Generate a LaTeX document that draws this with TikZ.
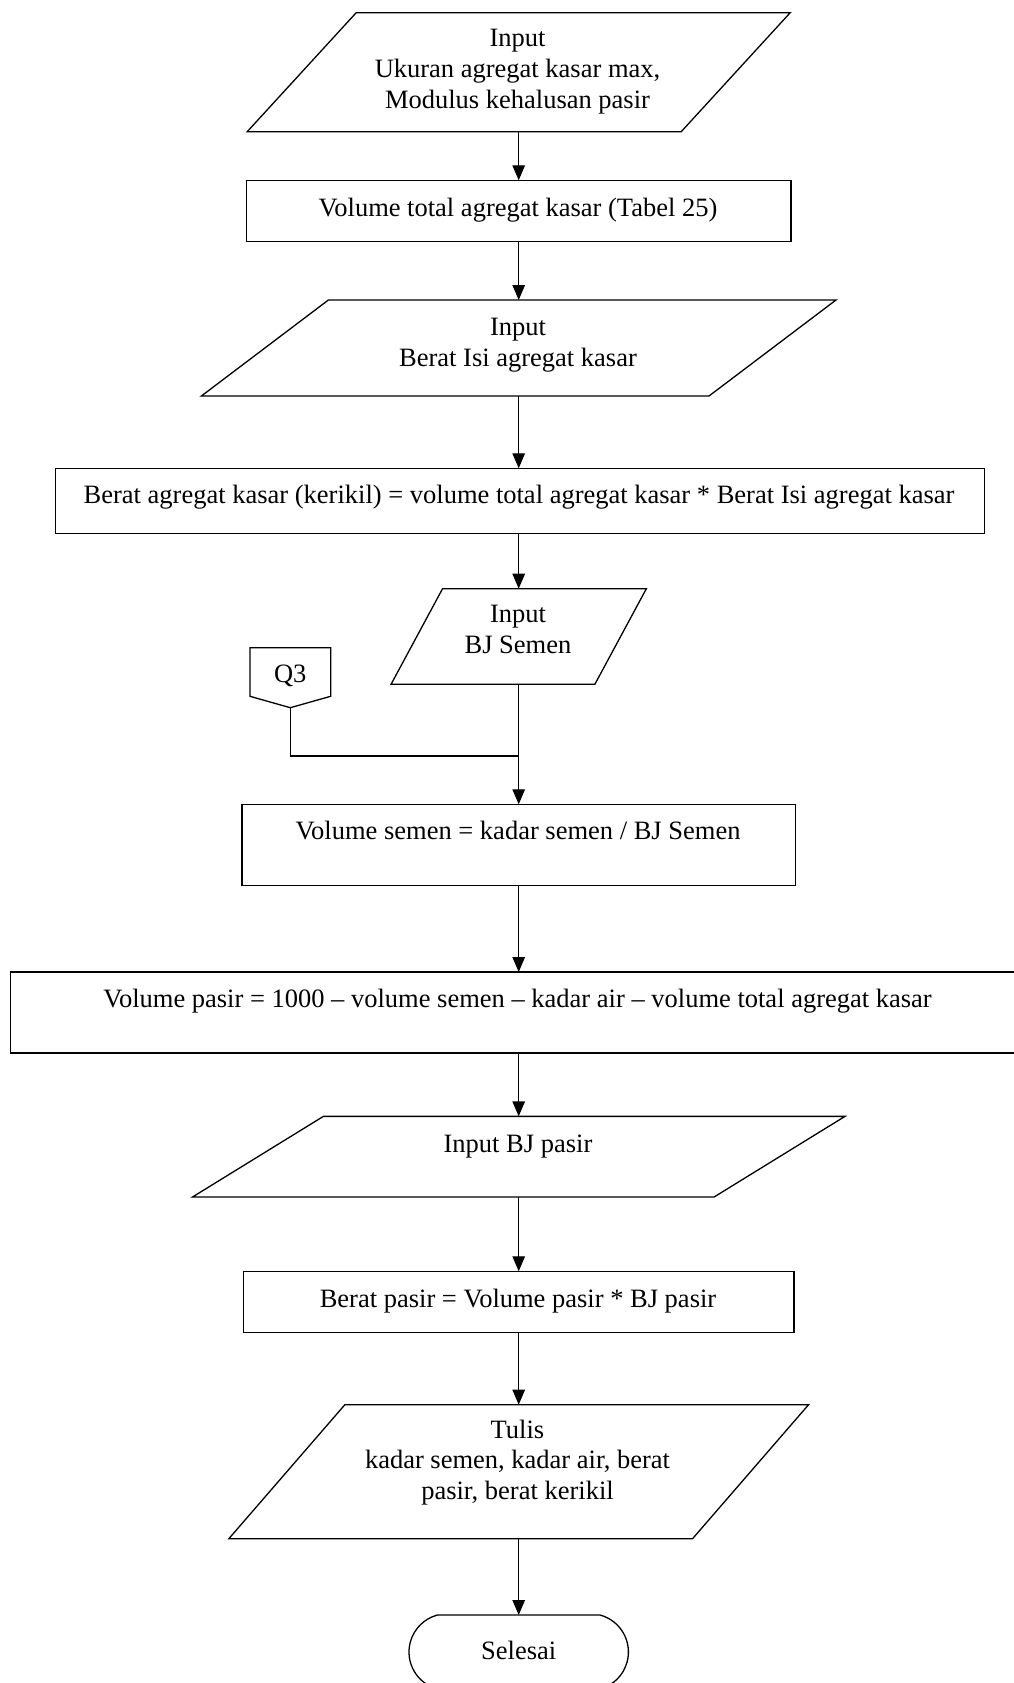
\documentclass[tikz,border=0pt]{standalone}
\usepackage{fontspec}
\setmainfont{Liberation Serif}
\usetikzlibrary{arrows.meta,calc,shapes.misc}

\tikzset{
  frame/.style={inner sep=0pt, outer sep=0pt},
  procbox/.style={frame, draw, rectangle},
  iobox/.style={frame, rectangle},
  endbox/.style={frame, draw, rounded rectangle, rounded rectangle arc length=150},
  txt/.style={font=\fontsize{26.5}{30.8}\selectfont, align=center, inner sep=0pt},
  flow/.style={-{Triangle[length=15pt,width=12.5pt]}},
}

% slanted outline of an input/output node: #1 node name, #2 horizontal slant
\newcommand{\ioframe}[2]{%
  \draw ($(#1.north west)+(#2,0)$) -- (#1.north east)
        -- ($(#1.south east)-(#2,0)$) -- (#1.south west) -- cycle;}

\begin{document}
\begin{tikzpicture}[x=1pt, y=-1pt, line width=1.3pt]
\useasboundingbox (0,0) rectangle (1014,1683);

% ---- shapes ----
\node[iobox, minimum width=543, minimum height=119]   (in1) at (518.7,72.2)  {};
\node[procbox, minimum width=544.3, minimum height=61] (vt)  at (518.7,210.8) {};
\node[iobox, minimum width=634.6, minimum height=96]  (in2) at (518.7,348)   {};
\node[procbox, minimum width=928.6, minimum height=65.4] (bk) at (520,501)   {};
\node[iobox, minimum width=255.3, minimum height=95.6] (in3) at (518.7,636.5) {};
\node[iobox, minimum width=80.7, minimum height=60]   (q3)  at (290.3,677.7) {};
\node[procbox, minimum width=553.3, minimum height=81] (vs) at (518.7,844.8) {};
\node[procbox, minimum width=1017, minimum height=81]  (vp) at (518.7,1012.5) {};
\node[iobox, minimum width=652.6, minimum height=80.7] (in4) at (518.7,1156.7) {};
\node[procbox, minimum width=550.6, minimum height=61.4] (bp) at (518.7,1302) {};
\node[iobox, minimum width=579.7, minimum height=134] (out) at (518.7,1471.7) {};
\node[endbox, minimum width=219.4, minimum height=74] (end) at (518.7,1652)  {};

\ioframe{in1}{109}
\ioframe{in2}{127}
\ioframe{in3}{51.5}
\ioframe{in4}{131}
\ioframe{out}{116}
% off-page connector
\draw (q3.north west) -- (q3.north east) -- ($(q3.south east)+(0,-11.4)$)
      -- (q3.south) -- ($(q3.south west)+(0,-11.4)$) -- cycle;

% ---- texts ----
\node[txt] (in1t) at (517.5,71.5)  {Input\\Ukuran agregat kasar max,\\Modulus kehalusan pasir};
\node[txt] (vtt)  at (518,210.1)   {Volume total agregat kasar (Tabel 25)};
\node[txt] (in2t) at (518,345)     {Input\\Berat Isi agregat kasar};
\node[txt] (bkt)  at (519,497.1)   {Berat agregat kasar (kerikil) = volume total agregat kasar * Berat Isi agregat kasar};
\node[txt] (in3t) at (518,629.5)   {Input\\BJ Semen};
\node[txt] (q3t)  at (290.3,676.2) {Q3};
\node[txt] (vst)  at (518,830.7)   {Volume semen = kadar semen / BJ Semen};
\node[txt] (vpt)  at (517.5,1001.5) {Volume pasir = 1000 – volume semen – kadar air – volume total agregat kasar};
\node[txt] (in4t) at (518,1146.8)  {Input BJ pasir};
\node[txt] (bpt)  at (518,1301.1)  {Berat pasir = Volume pasir * BJ pasir};
\node[txt] (outt) at (517.5,1462.5) {Tulis\\kadar semen, kadar air, berat\\pasir, berat kerikil};
\node[txt] (endt) at (518.7,1650.3) {Selesai};

% ---- connectors ----
\coordinate (jn) at (518.7,756);
\draw[flow] (in1.south) -- (vt.north);
\draw[flow] (vt.south)  -- (in2.north);
\draw[flow] (in2.south) -- (bk.north -| in2.south);
\draw[flow] (bk.south -| in3.north) -- (in3.north);
\draw[flow] (in3.south) -- (vs.north);
\draw (q3.south) |- (jn);
\draw[flow] (vs.south)  -- (vp.north);
\draw[flow] (vp.south)  -- (in4.north);
\draw[flow] (in4.south) -- (bp.north);
\draw[flow] (bp.south)  -- (out.north);
\draw[flow] (out.south) -- (end.north);
\end{tikzpicture}
\end{document}
